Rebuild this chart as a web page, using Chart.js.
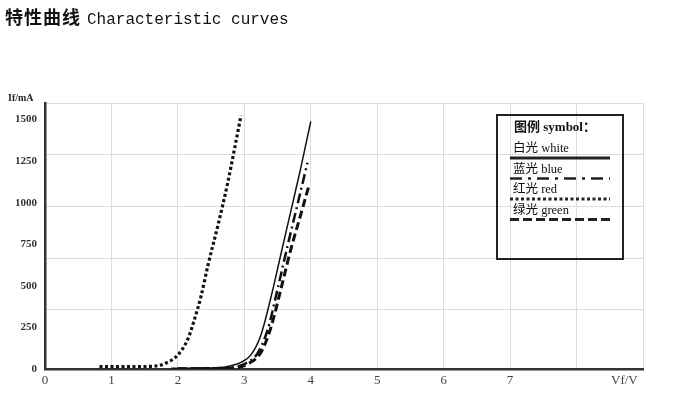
<!DOCTYPE html>
<html>
<head>
<meta charset="utf-8">
<script src="https://cdn.jsdelivr.net/npm/chart.js@4.4.1/dist/chart.umd.min.js"></script>
<style>
  html, body { margin: 0; padding: 0; background: #fff; }
  #wrap { position: relative; width: 675px; height: 393px; }
  #title { position: absolute; left: 5px; top: 3px; font-size: 16px; color: #111; white-space: nowrap; }
  #title b { font-family: 'Noto Sans CJK SC'; font-size: 18px; letter-spacing: 1px; }
  #title span { font-family: 'Liberation Mono', monospace; font-size: 16px; margin-left: 6px; }
</style>
</head>
<body>
<div id="wrap">
  <canvas id="ivChart" width="675" height="393"></canvas>
  <div id="title"><b>特性曲线</b><span>Characteristic curves</span></div>
</div>
<script>
// forward voltage (V) / current (mA)
const whiteV = [1.9, 2.6, 2.8, 2.95, 3.1, 3.25, 3.4, 3.55, 3.7, 3.85, 4.0];
const whiteI = [5, 8, 20, 40, 85, 205, 430, 690, 950, 1210, 1490];
const blueV  = [2.0, 2.7, 3.0, 3.2, 3.35, 3.5, 3.65, 3.8, 3.95];
const blueI  = [2, 5, 30, 95, 235, 480, 740, 990, 1240];
const redV   = [0.82, 1.2, 1.6, 1.8, 2.0, 2.15, 2.25, 2.35, 2.45, 2.6, 2.75, 2.85, 2.95];
const redI   = [14, 14, 16, 32, 85, 180, 300, 440, 620, 860, 1120, 1320, 1525];
const greenV = [2.0, 2.75, 3.05, 3.25, 3.4, 3.55, 3.7, 3.85, 3.97];
const greenI = [2, 5, 30, 100, 250, 480, 720, 930, 1100];

const yTicks = [0, 250, 500, 750, 1000, 1250, 1500];
const gridLinesY = [356, 667, 978, 1289, 1600]; // horizontal grid lines don't sit on the labels
const xLabels = ['0', '1', '2', '3', '4', '5', '6', '7', '', ''];

const legendItems = [
  { text: '白光 white', dash: [], width: 3 },
  { text: '蓝光 blue', dash: [12, 6, 3, 6], width: 2.5 },
  { text: '红光 red', dash: [3, 2.5], width: 3 },
  { text: '绿光 green', dash: [9, 4], width: 3 }
];

const toPts = (xs, ys) => xs.map((v, i) => ({ x: v, y: ys[i] }));

const line = (label, xs, ys, dash, width) => ({
  label: label,
  data: toPts(xs, ys),
  borderColor: '#111',
  borderWidth: width,
  borderDash: dash,
  pointRadius: 0,
  fill: false,
  cubicInterpolationMode: 'monotone'
});

// axis captions + boxed legend
const extras = {
  id: 'extras',
  afterDraw(chart) {
    const c = chart.ctx, a = chart.chartArea, xs = chart.scales.x;
    c.save();
    c.fillStyle = '#222';
    c.font = 'bold 10px "Liberation Serif"';
    c.textAlign = 'left';
    c.textBaseline = 'middle';
    c.fillText('If/mA', 8, a.top - 5);
    c.font = '13px "Liberation Serif"';
    c.textAlign = 'center';
    c.fillStyle = '#444';
    c.fillText('Vf/V', xs.getPixelForValue(8.72), a.bottom + 12);

    // legend box
    const bx = 497, by = 115, bw = 126, bh = 144;
    c.strokeStyle = '#222';
    c.lineWidth = 2;
    c.strokeRect(bx, by, bw, bh);
    c.fillStyle = '#111';
    c.textAlign = 'left';
    c.font = 'bold 13px "Liberation Serif", "Noto Sans CJK SC"';
    c.fillText('图例 symbol：', bx + 17, by + 13);
    legendItems.forEach((it, i) => {
      const ty = by + 34 + i * 20.5;
      c.font = '12.5px "Liberation Serif", "Noto Sans CJK SC"';
      c.fillText(it.text, bx + 16, ty);
      c.beginPath();
      c.setLineDash(it.dash);
      c.lineWidth = it.width;
      c.moveTo(bx + 13, ty + 9);
      c.lineTo(bx + 113, ty + 9);
      c.stroke();
    });
    c.restore();
  }
};

const ctx = document.getElementById('ivChart').getContext('2d');

const ivChart = new Chart(ctx, {
  type: 'line',
  data: {
    datasets: [
      line('白光 white', whiteV, whiteI, [], 1.5),
      line('蓝光 blue', blueV, blueI, [10, 4, 2, 4], 2.5),
      line('红光 red', redV, redI, [3, 2.5], 3.2),
      line('绿光 green', greenV, greenI, [8, 4], 3)
    ]
  },
  options: {
    responsive: false,
    animation: false,
    layout: { padding: { top: 103, right: 32, left: 0, bottom: 0 } },
    plugins: {
      legend: { display: false },
      tooltip: { enabled: false }
    },
    scales: {
      x: {
        type: 'linear',
        min: 0,
        max: 9,
        afterFit: s => { s.height = 24; },
        afterBuildTicks: s => { s.ticks = xLabels.map((t, i) => ({ value: i })); },
        ticks: {
          color: '#444',
          padding: 4,
          font: { family: 'Liberation Serif', size: 13 },
          callback: v => xLabels[v]
        },
        grid: { color: '#dcdcdc', drawTicks: false },
        border: { color: '#333', width: 2.5 }
      },
      y: {
        min: 0,
        max: 1600,
        afterFit: s => { s.width = 45; },
        afterBuildTicks: s => { s.ticks = yTicks.map(v => ({ value: v })); },
        ticks: {
          color: '#333',
          padding: 8,
          font: { family: 'Liberation Serif', size: 11, weight: 'bold' },
          callback: v => String(v)
        },
        grid: { display: false, drawTicks: false },
        border: { color: '#333', width: 2.5 }
      },
      y2: {
        position: 'right',
        min: 0,
        max: 1600,
        afterFit: s => { s.width = 0; },
        afterBuildTicks: s => { s.ticks = gridLinesY.map(v => ({ value: v })); },
        ticks: { display: false },
        grid: { color: '#dcdcdc', drawTicks: false },
        border: { display: false }
      }
    }
  },
  plugins: [extras]
});
</script>
</body>
</html>
